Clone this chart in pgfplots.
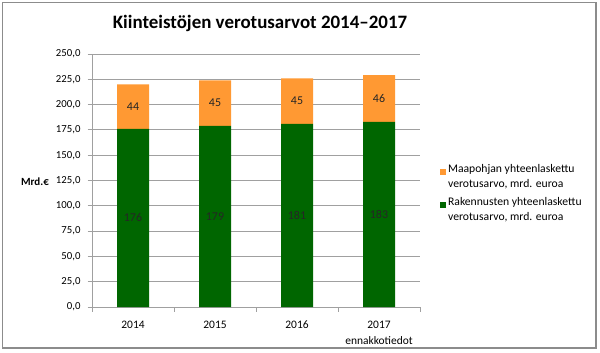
\documentclass[border=0pt]{standalone}
\usepackage{fontspec}
\setmainfont{Carlito}
\usepackage{pgfplots}
\pgfplotsset{compat=1.18}
\definecolor{bargreen}{HTML}{006600}
\definecolor{barorange}{HTML}{FF9933}
\definecolor{gridgray}{HTML}{A0A0A0}
\definecolor{framegray}{HTML}{8C8C8C}
\begin{document}
\begin{tikzpicture}[x=1bp,y=1bp]
\useasboundingbox (0,0) rectangle (600,352);
\draw[framegray, line width=1.3bp] (2.5,4) rectangle (596,349.5);
\node[font=\fontsize{19}{22}\selectfont\bfseries] at (260,329) {Kiinteistöjen verotusarvot 2014–2017};
\node[font=\fontsize{11}{13}\selectfont\bfseries] at (35,170) {Mrd.€};
\begin{axis}[
  at={(92bp,45bp)}, anchor=south west,
  scale only axis, width=328bp, height=253bp,
  ybar stacked, bar width=32bp,
  xmin=-0.5, xmax=3.5, ymin=0, ymax=250,
  ytick={0,25,...,250},
  minor ytick={0,25,...,250},
  xtick={0,1,2,3},
  xticklabels={\strut 2014,\strut 2015,\strut 2016,{\strut 2017\\ennakkotiedot}},
  minor xtick={-0.5,0.5,1.5,2.5,3.5},
  tick align=outside,
  major tick length=0bp, minor tick length=4.5bp,
  tick style={gridgray, line width=0.8bp},
  axis x line*=bottom, axis y line*=left,
  axis line style={gridgray, line width=0.8bp, -},
  ymajorgrids, grid style={gridgray, line width=0.8bp},
  /pgf/number format/assume math mode=true,
  yticklabel={\pgfmathprintnumber[fixed,fixed zerofill,precision=1,use comma]{\tick}},
  yticklabel style={font=\fontsize{10.8}{13}\selectfont, xshift=-8bp},
  xticklabel style={font=\fontsize{11.5}{16}\selectfont, align=center, yshift=-7bp},
  reverse legend,
  legend cell align=left,
  legend style={at={(rel axis cs:1.05,0.58)}, anchor=north west, draw=none, fill=none,
    font=\fontsize{11.7}{15.5}\selectfont, cells={align=left}, row sep=4bp},
  legend image code/.code={\fill[#1] (0bp,1.5bp) rectangle (6.5bp,8bp);},
]
\addplot[fill=bargreen, draw=none] coordinates {(0,176) (1,179) (2,181) (3,183)};
\addlegendentry{{Rakennusten yhteenlaskettu\\verotusarvo, mrd. euroa}}
\addplot[fill=barorange, draw=none] coordinates {(0,44) (1,45) (2,45) (3,46)};
\addlegendentry{{Maapohjan yhteenlaskettu\\verotusarvo, mrd. euroa}}
\coordinate (g0) at (axis cs:0,88);
\coordinate (g1) at (axis cs:1,89.5);
\coordinate (g2) at (axis cs:2,90.5);
\coordinate (g3) at (axis cs:3,91.5);
\coordinate (o0) at (axis cs:0,198);
\coordinate (o1) at (axis cs:1,201.5);
\coordinate (o2) at (axis cs:2,203.5);
\coordinate (o3) at (axis cs:3,206);
\end{axis}
\begin{scope}[every node/.style={font=\fontsize{12}{14}\selectfont, text=black!85}]
\node at (g0) {176};
\node at (g1) {179};
\node at (g2) {181};
\node at (g3) {183};
\node at (o0) {44};
\node at (o1) {45};
\node at (o2) {45};
\node at (o3) {46};
\end{scope}
\end{tikzpicture}
\end{document}
